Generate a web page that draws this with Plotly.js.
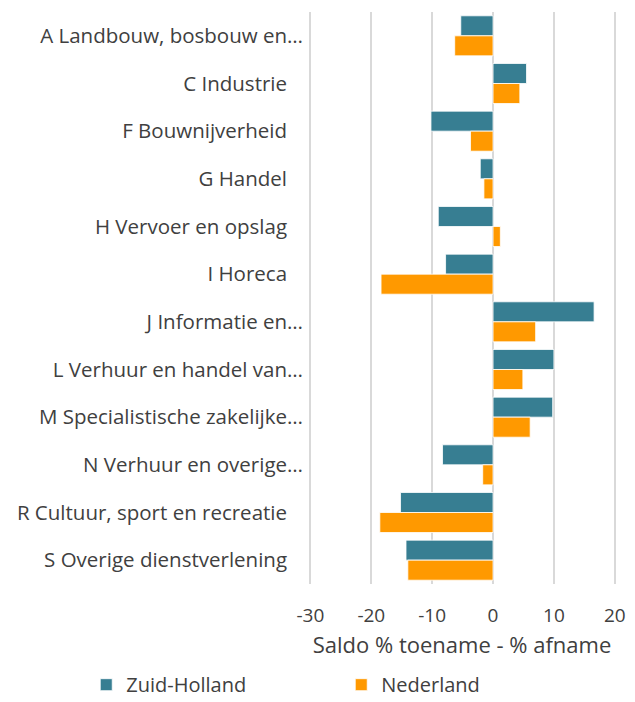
<!DOCTYPE html>
<html><head><meta charset="utf-8">
<script src="https://cdn.plot.ly/plotly-3.0.1.min.js"></script>
<style>body{margin:0;background:#fff}#chart{width:635px;height:702px}</style>
</head><body><div id="chart"></div>
<script>
const categories = [
  "A Landbouw, bosbouw en…",
  "C Industrie\u00a0\u00a0\u00a0",
  "F Bouwnijverheid\u00a0\u00a0\u00a0",
  "G Handel\u00a0\u00a0\u00a0",
  "H Vervoer en opslag\u00a0\u00a0\u00a0",
  "I Horeca\u00a0\u00a0\u00a0",
  "J Informatie en…",
  "L Verhuur en handel van…",
  "M Specialistische zakelijke…",
  "N Verhuur en overige…",
  "R Cultuur, sport en recreatie\u00a0\u00a0\u00a0",
  "S Overige dienstverlening\u00a0\u00a0\u00a0"
];
const zuidHolland = [-5.3, 5.5, -10.2, -2.1, -9.0, -7.8, 16.6, 10.0, 9.8, -8.3, -15.2, -14.3];
const nederland   = [-6.3, 4.4, -3.7, -1.5, 1.2, -18.4, 7.0, 4.9, 6.1, -1.7, -18.6, -14.0];
const xTicks = [-30, -20, -10, 0, 10, 20];

const font = "Open Sans, sans-serif";
const traces = [
  {type:'bar', orientation:'h', name:'Zuid-Holland', y:categories, x:zuidHolland,
   marker:{color:'#377E92', line:{color:'rgba(255,255,255,0.8)', width:1}}},
  {type:'bar', orientation:'h', name:'Nederland', y:categories, x:nederland,
   marker:{color:'#FF9900', line:{color:'rgba(255,255,255,0.8)', width:1}}}
];
const layout = {
  width:635, height:702,
  margin:{l:308, r:19, t:12, b:118, autoexpand:false},
  paper_bgcolor:'#fff', plot_bgcolor:'#fff',
  barmode:'group', bargap:0.16, bargroupgap:0,
  font:{family:font, color:'#404040', size:19},
  xaxis:{range:[-30.4, 20.2], tickvals:xTicks, ticktext:xTicks.map(String),
    showgrid:true, gridcolor:'#D9D9D9', gridwidth:2, zeroline:false, automargin:false,
    showline:false, ticks:'', tickfont:{size:19, family:font, color:'#404040'},
    ticklabelstandoff:18,
    title:{text:'Saldo % toename - % afname', font:{size:22, family:font, color:'#404040'}, standoff:10}},
  yaxis:{autorange:'reversed', showgrid:false, zeroline:false, showline:false, ticks:'', automargin:false,
    tickfont:{size:20.5, family:font, color:'#404040'}, ticklabelstandoff:4},
  legend:{orientation:'h', x:-0.72, y:-0.176, xanchor:'left', yanchor:'middle',
    font:{size:20, family:font, color:'#404040'}, entrywidth:210, entrywidthmode:'pixels', itemwidth:30,
    borderwidth:0, bgcolor:'rgba(0,0,0,0)'},
  showlegend:true
};
Plotly.newPlot('chart', traces, layout, {displayModeBar:false});
</script></body></html>
